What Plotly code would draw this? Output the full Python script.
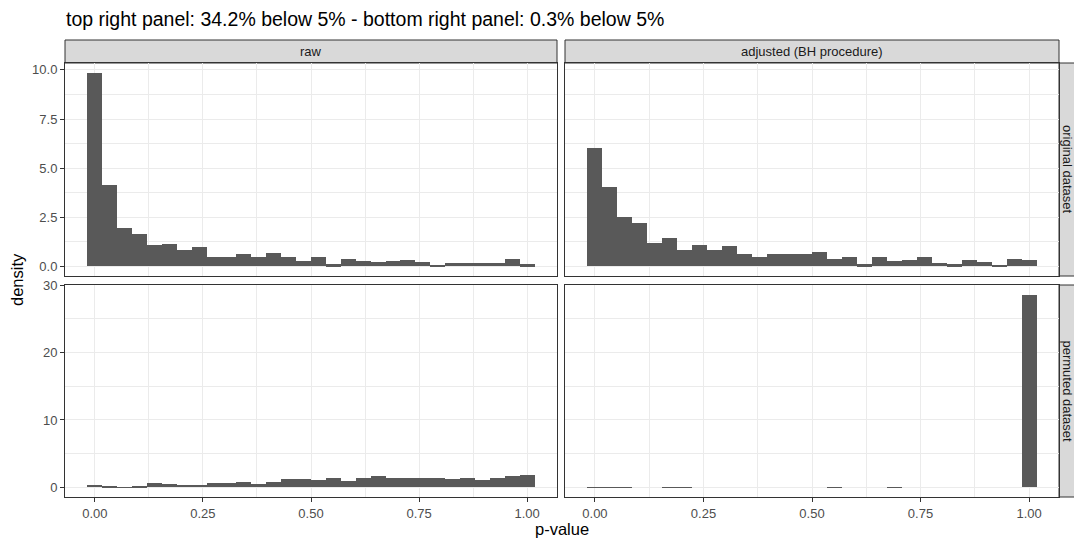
import numpy as np
import plotly.graph_objects as go

# ---------------- data (density per bin, 30 bins centred on 0 .. 1) ----------------
n_bins = 30
bin_centers = list(np.linspace(0.0, 1.0, n_bins))
bin_width = 1.0 / (n_bins - 1)

raw_original = [9.86, 4.12, 1.94, 1.67, 1.07, 1.14, 0.85, 0.97, 0.46, 0.49,
                0.63, 0.46, 0.70, 0.49, 0.29, 0.46, 0.10, 0.36, 0.29, 0.24,
                0.29, 0.34, 0.24, 0.07, 0.19, 0.15, 0.15, 0.19, 0.37, 0.10]
adjusted_original = [6.04, 4.06, 2.50, 2.21, 1.17, 1.45, 0.85, 1.09, 0.82, 1.02,
                     0.63, 0.48, 0.63, 0.63, 0.63, 0.75, 0.36, 0.49, 0.10, 0.49,
                     0.26, 0.31, 0.49, 0.19, 0.10, 0.31, 0.20, 0.03, 0.36, 0.31]
raw_permuted = [0.30, 0.15, 0.02, 0.20, 0.64, 0.44, 0.34, 0.34, 0.64, 0.64,
                0.74, 0.44, 0.84, 1.28, 1.28, 1.03, 1.43, 0.94, 1.38, 1.63,
                1.43, 1.43, 1.33, 1.43, 1.23, 1.43, 1.13, 1.33, 1.67, 1.77]
adjusted_permuted = [0.05, 0.05, 0.05, 0.0, 0.0, 0.05, 0.05, 0.0, 0.0, 0.0,
                     0.0, 0.0, 0.0, 0.0, 0.0, 0.0, 0.05, 0.0, 0.0, 0.0,
                     0.05, 0.0, 0.0, 0.0, 0.0, 0.0, 0.0, 0.0, 0.0, 28.6]

col_labels = ["raw", "adjusted (BH procedure)"]
row_labels = ["original dataset", "permuted dataset"]
title_text = "top right panel: 34.2% below 5% - bottom right panel: 0.3% below 5%"

x_ticks = [0.0, 0.25, 0.5, 0.75, 1.0]
y_ticks_top = [0.0, 2.5, 5.0, 7.5, 10.0]
y_ticks_bottom = [0, 10, 20, 30]

# ---------------- layout geometry ----------------
W, H = 1074, 541
FONT = "Liberation Sans"
BAR = "#595959"
GRID = "#EBEBEB"
BORDER = "#333333"
STRIP = "#D9D9D9"
TICK_SIZE = 13
STRIP_SIZE = 13
AXTITLE_SIZE = 16.5
TITLE_SIZE = 19.5

px_x = lambda p: p / W
px_y = lambda p: 1 - p / H

col_dom = [(65, 557), (565, 1059)]
row_dom = [(63, 276), (285, 497)]
strip_top = (40, 63)
strip_right = (1059, 1083)

panels = [
    (0, 0, raw_original),
    (0, 1, adjusted_original),
    (1, 0, raw_permuted),
    (1, 1, adjusted_permuted),
]

top_max = max(max(raw_original), max(adjusted_original))
bot_max = max(max(raw_permuted), max(adjusted_permuted))

fig = go.Figure()
layout_axes = {}
for idx, (r, c, vals) in enumerate(panels, start=1):
    xa = "x" if idx == 1 else f"x{idx}"
    ya = "y" if idx == 1 else f"y{idx}"
    fig.add_trace(go.Bar(
        x=bin_centers, y=vals, width=bin_width,
        marker=dict(color=BAR, line=dict(width=0)),
        xaxis=xa, yaxis=ya, showlegend=False, hoverinfo="x+y",
    ))
    ym = top_max if r == 0 else bot_max
    x_lo, x_hi = -bin_width / 2, 1 + bin_width / 2
    xpad = 0.05 * (x_hi - x_lo)
    ypad = 0.05 * ym
    xkey = "xaxis" if idx == 1 else f"xaxis{idx}"
    ykey = "yaxis" if idx == 1 else f"yaxis{idx}"
    layout_axes[xkey] = dict(
        domain=[px_x(col_dom[c][0]), px_x(col_dom[c][1])],
        anchor=ya, range=[x_lo - xpad, x_hi + xpad],
        tickvals=x_ticks, tickformat=".2f",
        showticklabels=(r == 1),
        ticks="outside" if r == 1 else "", ticklen=4, tickwidth=1, tickcolor=BORDER,
        tickfont=dict(family=FONT, size=TICK_SIZE, color="#4D4D4D"),
        showgrid=True, gridcolor=GRID, gridwidth=1,
        minor=dict(dtick=0.125, tick0=0.125, showgrid=True, gridcolor=GRID, gridwidth=0.5, ticks=""),
        showline=True, mirror=True, linecolor=BORDER, linewidth=1,
        zeroline=False, fixedrange=True, automargin=False,
    )
    yt = y_ticks_top if r == 0 else y_ticks_bottom
    layout_axes[ykey] = dict(
        domain=[px_y(row_dom[r][1]), px_y(row_dom[r][0])],
        anchor=xa, range=[-ypad, ym + ypad],
        tickvals=yt, tickformat=".1f" if r == 0 else "d",
        showticklabels=(c == 0),
        ticks="outside" if c == 0 else "", ticklen=4, tickwidth=1, tickcolor=BORDER,
        tickfont=dict(family=FONT, size=TICK_SIZE, color="#4D4D4D"),
        showgrid=True, gridcolor=GRID, gridwidth=1,
        minor=dict(tickvals=[(a + b) / 2 for a, b in zip(yt[:-1], yt[1:])],
                   showgrid=True, gridcolor=GRID, gridwidth=0.5, ticks=""),
        showline=True, mirror=True, linecolor=BORDER, linewidth=1,
        zeroline=False, fixedrange=True, automargin=False,
    )

shapes = []
annotations = []
# top strips
for c, lab in enumerate(col_labels):
    x0, x1 = col_dom[c]
    shapes.append(dict(type="rect", xref="paper", yref="paper",
                       x0=px_x(x0), x1=px_x(x1), y0=px_y(strip_top[1]), y1=px_y(strip_top[0]),
                       fillcolor=STRIP, line=dict(color=BORDER, width=1), layer="below"))
    annotations.append(dict(text=lab, xref="paper", yref="paper",
                            x=px_x((x0 + x1) / 2), y=px_y((strip_top[0] + strip_top[1]) / 2),
                            xanchor="center", yanchor="middle", showarrow=False,
                            font=dict(family=FONT, size=STRIP_SIZE, color="#1A1A1A")))
# right strips
for r, lab in enumerate(row_labels):
    y0, y1 = row_dom[r]
    shapes.append(dict(type="rect", xref="paper", yref="paper",
                       x0=px_x(strip_right[0]), x1=px_x(strip_right[1]), y0=px_y(y1), y1=px_y(y0),
                       fillcolor=STRIP, line=dict(color=BORDER, width=1), layer="below"))
    annotations.append(dict(text=lab, xref="paper", yref="paper",
                            x=px_x(1067.5), y=px_y((y0 + y1) / 2),
                            xanchor="center", yanchor="middle", showarrow=False, textangle=90,
                            font=dict(family=FONT, size=STRIP_SIZE, color="#1A1A1A")))
# title and axis titles
annotations.append(dict(text=title_text, xref="paper", yref="paper",
                        x=px_x(64), y=px_y(19), xanchor="left", yanchor="middle",
                        showarrow=False, font=dict(family=FONT, size=TITLE_SIZE, color="#000000")))
annotations.append(dict(text="p-value", xref="paper", yref="paper",
                        x=px_x((65 + 1059) / 2), y=px_y(529), xanchor="center", yanchor="middle",
                        showarrow=False, font=dict(family=FONT, size=AXTITLE_SIZE, color="#000000")))
annotations.append(dict(text="density", xref="paper", yref="paper",
                        x=px_x(17), y=px_y((63 + 497) / 2), xanchor="center", yanchor="middle",
                        textangle=-90, showarrow=False,
                        font=dict(family=FONT, size=AXTITLE_SIZE, color="#000000")))

fig.update_layout(
    width=W, height=H,
    margin=dict(l=0, r=0, t=0, b=0, autoexpand=False),
    paper_bgcolor="white", plot_bgcolor="white",
    bargap=0, barmode="overlay",
    shapes=shapes, annotations=annotations,
    font=dict(family=FONT),
    **layout_axes,
)

post = (
    "document.documentElement.style.margin='0';"
    "document.body.style.margin='0';document.body.style.padding='0';"
    "var gd=document.getElementById('{plot_id}');"
    "gd.style.position='absolute';gd.style.left='0px';gd.style.top='0px';"
)
fig.write_html("out.html", config={"displayModeBar": False}, post_script=post)
